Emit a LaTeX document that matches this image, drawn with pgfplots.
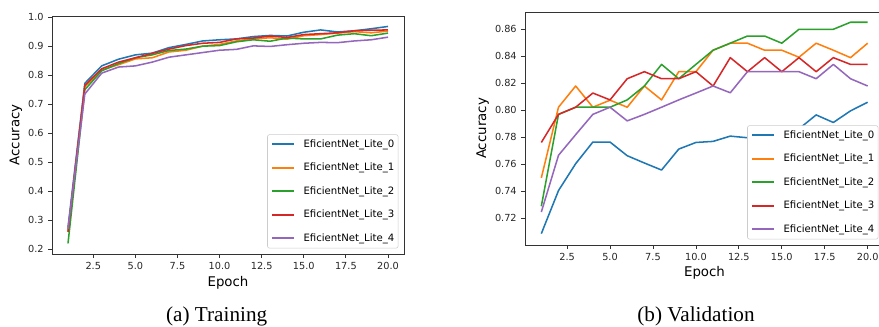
\documentclass[border=0pt]{standalone}
\usepackage{pgfplots}
\pgfplotsset{compat=1.18}
\usepackage{fontspec}
\setmainfont{DejaVu Sans}
\newfontfamily\capfont{Liberation Serif}
\definecolor{c0}{HTML}{1F77B4}
\definecolor{c1}{HTML}{FF7F0E}
\definecolor{c2}{HTML}{2CA02C}
\definecolor{c3}{HTML}{D62728}
\definecolor{c4}{HTML}{9467BD}
\pgfplotsset{
  mplstyle/.style={
    scale only axis,
    xmin=0.05, xmax=20.95,
    axis line style={black!80, line width=0.6pt},
    tick style={black!80, line width=0.6pt},
    tick align=outside,
    major tick length=2.7pt,
    xtick pos=bottom, ytick pos=left,
    xtick={2.5,5,7.5,10,12.5,15,17.5,20},
    minor tick num=0,
    tick label style={font=\fontsize{7.3}{8}\selectfont, text=black!85},
    label style={font=\fontsize{7.3}{8}\selectfont, text=black!85},
    /pgf/number format/assume math mode=true,
    xticklabel style={/pgf/number format/.cd, fixed, fixed zerofill, precision=1},
    every axis x label/.style={at={(rel axis cs:0.5,0)}, anchor=center},
    every axis y label/.style={at={(rel axis cs:0,0.5)}, anchor=center, rotate=90},
    legend cell align=left,
    legend style={at={(rel axis cs:1,0)}, anchor=south east,
      xshift=-4.2pt, yshift=4.2pt,
      draw=black!20, rounded corners=1.5pt, fill=white,
      font=\fontsize{7.6}{8}\selectfont,
      nodes={inner sep=0pt, text height=5.6pt, text depth=1.5pt},
      /tikz/row sep=10.5pt, /tikz/column sep=6.2pt,
      inner xsep=2.8pt, inner ysep=3.8pt},
    legend image code/.code={\draw[#1, line width=1.55pt] (0pt,0pt) -- (16.5pt,0pt);},
    every axis plot/.append style={line width=1.15pt, line join=round},
  }
}
\begin{document}
\begin{tikzpicture}
\useasboundingbox (0,0) rectangle (659.25pt,245.25pt);
% ---------------- Training ----------------
\begin{axis}[mplstyle,
  at={(39pt,54.75pt)}, anchor=south west,
  width=264pt, height=178.5pt,
  ymin=0.1835, ymax=1.004,
  ytick={0.2,0.3,0.4,0.5,0.6,0.7,0.8,0.9,1.0},
  yticklabel style={/pgf/number format/.cd, fixed, fixed zerofill, precision=1},
  xlabel={Epoch}, ylabel={Accuracy},
  xlabel style={yshift=-21.6pt},
  ylabel style={yshift=27pt},
]
\addplot[c0] coordinates {(1,0.275)(2,0.772)(3,0.832)(4,0.855)(5,0.870)(6,0.876)(7,0.895)(8,0.906)(9,0.918)(10,0.922)(11,0.925)(12,0.933)(13,0.937)(14,0.935)(15,0.948)(16,0.956)(17,0.949)(18,0.953)(19,0.960)(20,0.968)};
\addlegendentry{EficientNet\_Lite\_0}
\addplot[c1] coordinates {(1,0.260)(2,0.760)(3,0.818)(4,0.836)(5,0.856)(6,0.860)(7,0.880)(8,0.886)(9,0.900)(10,0.906)(11,0.918)(12,0.925)(13,0.929)(14,0.924)(15,0.936)(16,0.940)(17,0.945)(18,0.950)(19,0.946)(20,0.952)};
\addlegendentry{EficientNet\_Lite\_1}
\addplot[c2] coordinates {(1,0.220)(2,0.750)(3,0.815)(4,0.840)(5,0.860)(6,0.870)(7,0.885)(8,0.890)(9,0.900)(10,0.902)(11,0.915)(12,0.922)(13,0.917)(14,0.928)(15,0.925)(16,0.925)(17,0.938)(18,0.943)(19,0.936)(20,0.945)};
\addlegendentry{EficientNet\_Lite\_2}
\addplot[c3] coordinates {(1,0.260)(2,0.765)(3,0.822)(4,0.845)(5,0.860)(6,0.875)(7,0.890)(8,0.902)(9,0.910)(10,0.913)(11,0.925)(12,0.928)(13,0.935)(14,0.930)(15,0.940)(16,0.943)(17,0.946)(18,0.953)(19,0.955)(20,0.956)};
\addlegendentry{EficientNet\_Lite\_3}
\addplot[c4] coordinates {(1,0.270)(2,0.735)(3,0.807)(4,0.828)(5,0.832)(6,0.845)(7,0.862)(8,0.870)(9,0.878)(10,0.886)(11,0.889)(12,0.901)(13,0.899)(14,0.905)(15,0.910)(16,0.913)(17,0.912)(18,0.918)(19,0.922)(20,0.931)};
\addlegendentry{EficientNet\_Lite\_4}
\end{axis}
% ---------------- Validation ----------------
\begin{axis}[mplstyle,
  at={(393.75pt,61.5pt)}, anchor=south west,
  width=269.25pt, height=174.75pt,
  ymin=0.7003, ymax=0.8728,
  ytick={0.72,0.74,0.76,0.78,0.80,0.82,0.84,0.86},
  yticklabel style={/pgf/number format/.cd, fixed, fixed zerofill, precision=2},
  xlabel={Epoch}, ylabel={Accuracy},
  xlabel style={yshift=-21.2pt},
  ylabel style={yshift=31.7pt},
]
\addplot[c0] coordinates {(1,0.7087)(2,0.7406)(3,0.7605)(4,0.7765)(5,0.7765)(6,0.7664)(7,0.7610)(8,0.7558)(9,0.7713)(10,0.7762)(11,0.7770)(12,0.7809)(13,0.7797)(14,0.7863)(15,0.7810)(16,0.7863)(17,0.7966)(18,0.7910)(19,0.7996)(20,0.8060)};
\addlegendentry{EficientNet\_Lite\_0}
\addplot[c1] coordinates {(1,0.7500)(2,0.8023)(3,0.8180)(4,0.8023)(5,0.8075)(6,0.8023)(7,0.8180)(8,0.8077)(9,0.8286)(10,0.8286)(11,0.8445)(12,0.8497)(13,0.8497)(14,0.8445)(15,0.8445)(16,0.8393)(17,0.8497)(18,0.8445)(19,0.8390)(20,0.8497)};
\addlegendentry{EficientNet\_Lite\_1}
\addplot[c2] coordinates {(1,0.7290)(2,0.7970)(3,0.8023)(4,0.8023)(5,0.8023)(6,0.8077)(7,0.8180)(8,0.8340)(9,0.8234)(10,0.8340)(11,0.8445)(12,0.8497)(13,0.8550)(14,0.8550)(15,0.8497)(16,0.8600)(17,0.8600)(18,0.8600)(19,0.8652)(20,0.8652)};
\addlegendentry{EficientNet\_Lite\_2}
\addplot[c3] coordinates {(1,0.7762)(2,0.7970)(3,0.8023)(4,0.8128)(5,0.8077)(6,0.8234)(7,0.8286)(8,0.8234)(9,0.8234)(10,0.8286)(11,0.8180)(12,0.8390)(13,0.8286)(14,0.8390)(15,0.8286)(16,0.8390)(17,0.8286)(18,0.8390)(19,0.8340)(20,0.8340)};
\addlegendentry{EficientNet\_Lite\_3}
\addplot[c4] coordinates {(1,0.7247)(2,0.7667)(3,0.7820)(4,0.7970)(5,0.8023)(6,0.7922)(7,0.7970)(8,0.8023)(9,0.8077)(10,0.8128)(11,0.8180)(12,0.8130)(13,0.8286)(14,0.8286)(15,0.8286)(16,0.8286)(17,0.8234)(18,0.8340)(19,0.8234)(20,0.8180)};
\addlegendentry{EficientNet\_Lite\_4}
\end{axis}
% ---------------- Captions ----------------
\node[anchor=base, font=\capfont\fontsize{15.9}{18}\selectfont] at (162.5pt,3.75pt) {(a) Training};
\node[anchor=base, font=\capfont\fontsize{15.9}{18}\selectfont] at (522pt,3.75pt) {(b) Validation};
\end{tikzpicture}
\end{document}
